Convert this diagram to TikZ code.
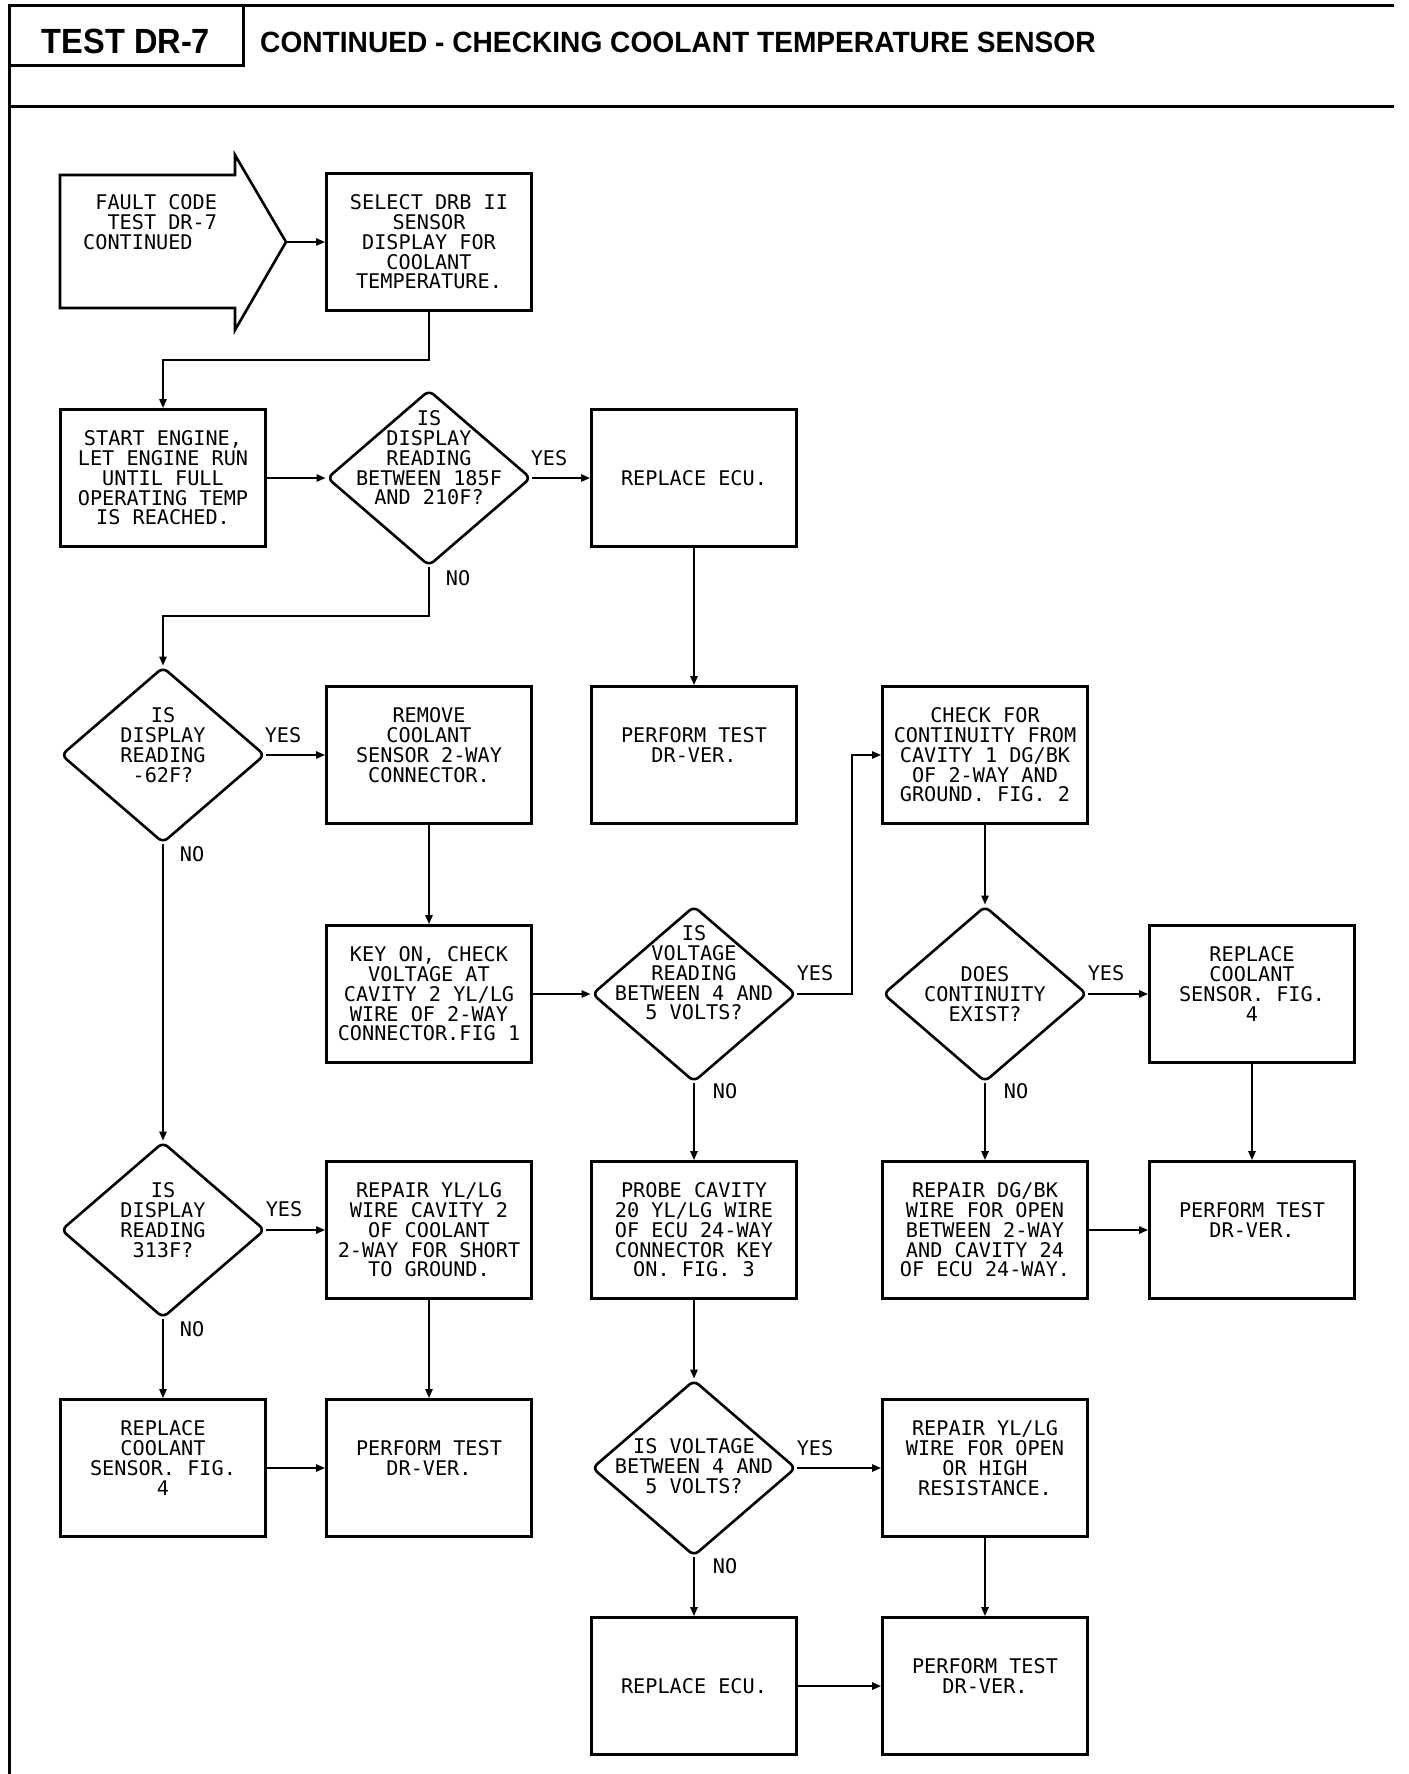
\documentclass[tikz,border=0pt]{standalone}
\usepackage{fontspec}
\newfontfamily\flowfont{DejaVu Sans Mono}
\newfontfamily\headfontA[FakeStretch=0.93]{Liberation Sans}
\newfontfamily\headfontB[FakeStretch=0.96]{Liberation Sans}
\usetikzlibrary{shapes.geometric,arrows.meta}
\begin{document}
\begin{tikzpicture}[x=1pt,y=-1pt,
  txt/.style={font=\flowfont\fontsize{20.2}{19.8}\selectfont, align=center, inner sep=0pt},
  box/.style={txt, draw, line width=2.6pt, minimum width=205pt, minimum height=137pt},
  dia/.style={shape=diamond, draw, line width=2.6pt, minimum width=204pt, minimum height=176pt, inner sep=0pt, rounded corners=6pt},
  lbl/.style={txt},
  arr/.style={line width=2.2pt, -{Triangle[length=9pt,width=7pt]}},
  frame/.style={line width=3pt}]
\useasboundingbox (0,0) rectangle (1408,1774);
% header
\draw[frame] (9,1774) -- (9,6) -- (1394,6);
\draw[frame] (9,66) -- (243,66) -- (243,6);
\draw[frame] (9,107) -- (1394,107);
\node[font=\headfontA\bfseries\fontsize{35}{40}\selectfont, inner sep=0pt] (hdrA) at (126,41) {TEST DR-7};
\node[font=\headfontB\bfseries\fontsize{29.3}{34}\selectfont, inner sep=0pt, anchor=west] (hdrB) at (260,42) {CONTINUED - CHECKING COOLANT TEMPERATURE SENSOR};
% fault code arrow
\draw[line width=2.6pt, line join=miter] (60,175) -- (235,175) -- (235,155) -- (286,242) -- (235,330) -- (235,308) -- (60,308) -- cycle;
\coordinate (faultTip) at (286,242);
\node[txt, anchor=west, align=left] (fault) at (83,222) {\phantom{X}FAULT CODE\\\phantom{XX}TEST DR-7\\CONTINUED};
% row 1-2
\node[box] (select) at (429,242) {SELECT DRB II\\SENSOR\\DISPLAY FOR\\COOLANT\\TEMPERATURE.};
\node[box] (start) at (163,478) {START ENGINE,\\LET ENGINE RUN\\UNTIL FULL\\OPERATING TEMP\\IS REACHED.};
\node[dia] (d1) at (429,478) {};
\node[txt] (d1t) at (429,458) {IS\\DISPLAY\\READING\\BETWEEN 185F\\AND 210F?};
\node[box] (rep1) at (694,478) {REPLACE ECU.};
% row 3
\node[dia] (d2) at (163,755) {};
\node[txt] (d2t) at (163,745) {IS\\DISPLAY\\READING\\-62F?};
\node[box] (remove) at (429,755) {REMOVE\\COOLANT\\SENSOR 2-WAY\\CONNECTOR.\\\mbox{}};
\node[box] (perf1) at (694,755) {PERFORM TEST\\DR-VER.\\\mbox{}};
\node[box] (check) at (985,755) {CHECK FOR\\CONTINUITY FROM\\CAVITY 1 DG/BK\\OF 2-WAY AND\\GROUND. FIG. 2};
% row 4
\node[box] (keyon) at (429,994) {KEY ON, CHECK\\VOLTAGE AT\\CAVITY 2 YL/LG\\WIRE OF 2-WAY\\CONNECTOR.FIG 1};
\node[dia] (dv) at (694,994) {};
\node[txt] (dvt) at (694,973) {IS\\VOLTAGE\\READING\\BETWEEN 4 AND\\5 VOLTS?};
\node[dia] (dc) at (985,994) {};
\node[txt] (dct) at (985,994) {DOES\\CONTINUITY\\EXIST?};
\node[box] (repcoolE) at (1252,994) {REPLACE\\COOLANT\\SENSOR. FIG.\\4\\\mbox{}};
% row 5
\node[dia] (d3) at (163,1230) {};
\node[txt] (d3t) at (163,1220) {IS\\DISPLAY\\READING\\313F?};
\node[box] (repcav2) at (429,1230) {REPAIR YL/LG\\WIRE CAVITY 2\\OF COOLANT\\2-WAY FOR SHORT\\TO GROUND.};
\node[box] (probe) at (694,1230) {PROBE CAVITY\\20 YL/LG WIRE\\OF ECU 24-WAY\\CONNECTOR KEY\\ON. FIG. 3};
\node[box] (repdg) at (985,1230) {REPAIR DG/BK\\WIRE FOR OPEN\\BETWEEN 2-WAY\\AND CAVITY 24\\OF ECU 24-WAY.};
\node[box] (perfE) at (1252,1230) {PERFORM TEST\\DR-VER.\\\mbox{}};
% row 6
\node[box] (repcoolA) at (163,1468) {REPLACE\\COOLANT\\SENSOR. FIG.\\4\\\mbox{}};
\node[box] (perfB) at (429,1468) {PERFORM TEST\\DR-VER.\\\mbox{}};
\node[dia] (dv2) at (694,1468) {};
\node[txt] (dv2t) at (694,1466) {IS VOLTAGE\\BETWEEN 4 AND\\5 VOLTS?};
\node[box] (repyl) at (985,1468) {REPAIR YL/LG\\WIRE FOR OPEN\\OR HIGH\\RESISTANCE.\\\mbox{}};
% row 7
\node[box] (rep2) at (694,1686) {REPLACE ECU.};
\node[box] (perfD) at (985,1686) {PERFORM TEST\\DR-VER.\\\mbox{}};
% labels
\node[lbl] (y1) at (549,458) {YES};
\node[lbl] (n1) at (458,578) {NO};
\node[lbl] (y2) at (283,735) {YES};
\node[lbl] (n2) at (192,854) {NO};
\node[lbl] (y3) at (815,973) {YES};
\node[lbl] (n3) at (725,1091) {NO};
\node[lbl] (y4) at (1106,973) {YES};
\node[lbl] (n4) at (1016,1091) {NO};
\node[lbl] (y5) at (284,1209) {YES};
\node[lbl] (n5) at (192,1329) {NO};
\node[lbl] (y6) at (815,1448) {YES};
\node[lbl] (n6) at (725,1566) {NO};
% connectors
\coordinate (j1) at (429,360);
\coordinate (j2) at (429,616);
\coordinate (j3) at (852,994);
\draw[arr] (faultTip) -- (select.west);
\draw[arr] (select.south) -- (j1) -| (start.north);
\draw[arr] (start.east) -- (d1.west);
\draw[arr] (d1.east) -- (rep1.west);
\draw[arr] (rep1.south) -- (perf1.north);
\draw[arr] (d1.south) -- (j2) -| (d2.north);
\draw[arr] (d2.east) -- (remove.west);
\draw[arr] (d2.south) -- (d3.north);
\draw[arr] (remove.south) -- (keyon.north);
\draw[arr] (keyon.east) -- (dv.west);
\draw[arr] (dv.east) -- (j3) |- (check.west);
\draw[arr] (dv.south) -- (probe.north);
\draw[arr] (check.south) -- (dc.north);
\draw[arr] (dc.east) -- (repcoolE.west);
\draw[arr] (dc.south) -- (repdg.north);
\draw[arr] (repcoolE.south) -- (perfE.north);
\draw[arr] (repdg.east) -- (perfE.west);
\draw[arr] (d3.east) -- (repcav2.west);
\draw[arr] (d3.south) -- (repcoolA.north);
\draw[arr] (repcav2.south) -- (perfB.north);
\draw[arr] (repcoolA.east) -- (perfB.west);
\draw[arr] (probe.south) -- (dv2.north);
\draw[arr] (dv2.east) -- (repyl.west);
\draw[arr] (dv2.south) -- (rep2.north);
\draw[arr] (repyl.south) -- (perfD.north);
\draw[arr] (rep2.east) -- (perfD.west);
\end{tikzpicture}
\end{document}
